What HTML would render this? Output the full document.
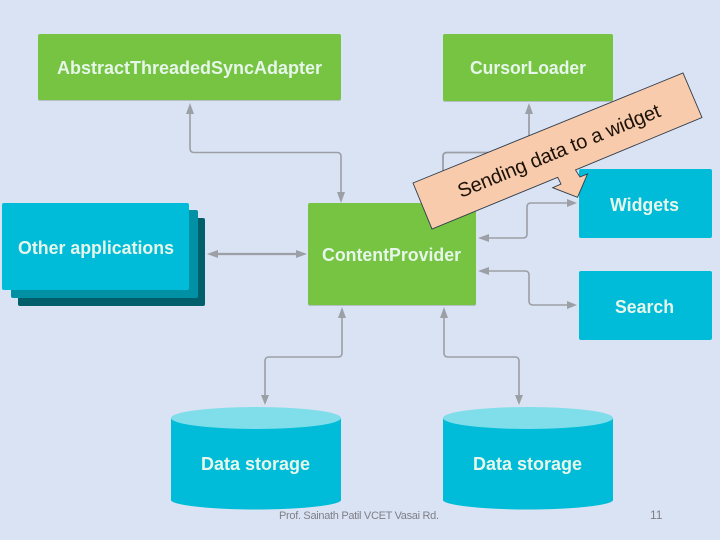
<!DOCTYPE html>
<html>
<head>
<meta charset="utf-8">
<style>
html,body{margin:0;padding:0;background:#dae3f3;}
svg{display:block;}
.w{font-family:"Liberation Sans",sans-serif;font-weight:bold;fill:#e6f6ea;font-size:18px;}
.c{fill:none;stroke:#9d9fa6;stroke-width:1.6;}
.a{fill:#9d9fa6;}
</style>
</head>
<body>
<svg width="720" height="540" viewBox="0 0 720 540" xmlns="http://www.w3.org/2000/svg">
<rect width="720" height="540" fill="#dae3f3"/>

<!-- green boxes -->
<rect x="38" y="35" width="303" height="66" rx="2" fill="#b4bfc4"/>
<rect x="38" y="34" width="303" height="66" rx="2" fill="#76c442"/>
<rect x="443" y="35" width="170" height="67" rx="2" fill="#b4bfc4"/>
<rect x="443" y="34" width="170" height="67" rx="2" fill="#76c442"/>
<rect x="308" y="204" width="168" height="102" rx="2" fill="#b4bfc4"/>
<rect x="308" y="203" width="168" height="102" rx="2" fill="#76c442"/>

<!-- other applications stack -->
<rect x="18" y="218" width="187" height="88" rx="2" fill="#005f6b"/>
<rect x="11" y="210" width="187" height="88" rx="2" fill="#0091a5"/>
<rect x="2" y="203" width="187" height="87" rx="2" fill="#00bcd9"/>

<!-- widgets / search -->
<rect x="579" y="169" width="133" height="69" rx="2" fill="#00bcd9"/>
<rect x="579" y="271" width="133" height="69" rx="2" fill="#00bcd9"/>

<!-- cylinders -->
<path d="M171 418 V500 C171 505 210 509.500 256 509.500 C302 509.500 341 505 341 500 V418 Z" fill="#00bcd9"/>
<ellipse cx="256" cy="418" rx="85" ry="11" fill="#80deea"/>
<path d="M443 418 V500 C443 505 482 509.500 528 509.500 C574 509.500 613 505 613 500 V418 Z" fill="#00bcd9"/>
<ellipse cx="528" cy="418" rx="85" ry="11" fill="#80deea"/>

<!-- connectors -->
<path class="c" d="M190 110 V148 Q190 152.500 194 152.500 H337 Q341 152.500 341 156.500 V192"/>
<polygon class="a" points="190,103 186,114 194,114"/>
<polygon class="a" points="341,203 337,192 345,192"/>

<path class="c" d="M529 112 V152.500 H447 Q443 152.500 443 156.500 V204" style="stroke-width:1.800"/>
<polygon class="a" points="529,103 525,114 533,114"/>

<path class="c" d="M218 254 H296" style="stroke-width:2.200"/>
<polygon class="a" points="207,254 218,250 218,258"/>
<polygon class="a" points="307,254 296,250 296,258"/>

<path class="c" d="M488 238 H523 Q527 238 527 234 V207 Q527 203 531 203 H567"/>
<polygon class="a" points="478,238 489,234 489,242"/>
<polygon class="a" points="577,203 567,199 567,207"/>

<path class="c" d="M488 271 H525 Q529 271 529 275 V301 Q529 305 533 305 H567"/>
<polygon class="a" points="478,271 489,267 489,275"/>
<polygon class="a" points="577,305 567,301 567,309"/>

<path class="c" d="M342 317 V353 Q342 357 338 357 H269 Q265 357 265 361 V395"/>
<polygon class="a" points="342,307 338,318 346,318"/>
<polygon class="a" points="265,405 261,395 269,395"/>

<path class="c" d="M444 317 V353 Q444 357 448 357 H515 Q519 357 519 361 V395"/>
<polygon class="a" points="444,307 440,318 448,318"/>
<polygon class="a" points="519,405 515,395 523,395"/>

<!-- box labels -->
<text class="w" x="57" y="74" textLength="265" lengthAdjust="spacingAndGlyphs">AbstractThreadedSyncAdapter</text>
<text class="w" x="470" y="74" textLength="116" lengthAdjust="spacingAndGlyphs">CursorLoader</text>
<text class="w" x="322" y="261" textLength="139" lengthAdjust="spacingAndGlyphs">ContentProvider</text>
<text class="w" x="18" y="254" textLength="156" lengthAdjust="spacingAndGlyphs">Other applications</text>
<text class="w" x="610" y="211" textLength="69" lengthAdjust="spacingAndGlyphs">Widgets</text>
<text class="w" x="615" y="313" textLength="59" lengthAdjust="spacingAndGlyphs">Search</text>
<text class="w" x="201" y="470" textLength="109" lengthAdjust="spacingAndGlyphs">Data storage</text>
<text class="w" x="473" y="470" textLength="109" lengthAdjust="spacingAndGlyphs">Data storage</text>

<!-- callout -->
<polygon points="413,183 683,73 702,117.500 575.500,170 580,177 587.500,174 577.500,197.300 552.700,187.700 561,184 557.700,177.300 432,229" fill="#f8cbad" stroke="#2f3b4a" stroke-width="0.900"/>
<text transform="translate(461,198) rotate(-22.200)" x="0" y="0" font-family="'Liberation Sans',sans-serif" font-size="20" fill="#1d1208" textLength="217" lengthAdjust="spacing">Sending data to a widget</text>

<!-- footer -->
<text x="279" y="519" font-family="'Liberation Sans',sans-serif" font-size="11" fill="#7f7f87" textLength="160" lengthAdjust="spacing">Prof. Sainath Patil VCET Vasai Rd.</text>
<text x="650" y="519" font-family="'Liberation Sans',sans-serif" font-size="12" fill="#7f7f87">11</text>
</svg>
</body>
</html>
